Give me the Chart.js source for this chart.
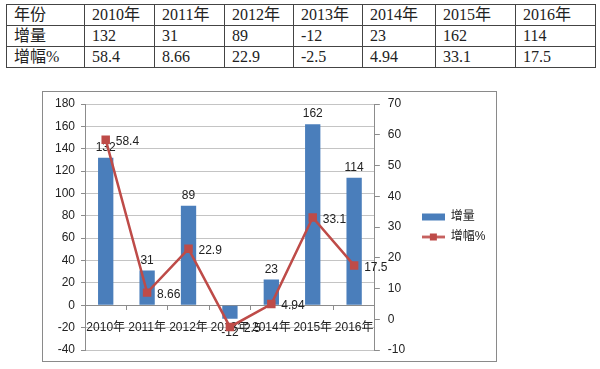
<!DOCTYPE html>
<html>
<head>
<meta charset="utf-8">
<script src="https://cdn.jsdelivr.net/npm/chart.js@4.4.0/dist/chart.umd.min.js"></script>
<style>
  body { margin: 0; background: #fff; width: 600px; height: 369px; overflow: hidden; position: relative; }
  table { position: absolute; left: 6px; top: 4px; border-collapse: collapse; table-layout: fixed;
          font-family: 'Liberation Serif', 'Noto Sans CJK SC', serif; font-size: 16px; color: #222; }
  td { border: 1px solid #444; padding: 0 0 0 7px; height: 20px; line-height: 20px; white-space: nowrap; }
  #frame { position: absolute; left: 42px; top: 91px; width: 453px; height: 269px; border: 1px solid #8a8a8a; }
  #frame canvas { display: block; }
</style>
</head>
<body>
<table id="tbl"></table>
<div id="frame"><canvas id="growthChart" width="453" height="269"></canvas></div>
<script>
// data
const years = ['2010年', '2011年', '2012年', '2013年', '2014年', '2015年', '2016年'];
const increase = [132, 31, 89, -12, 23, 162, 114];
const growthPct = [58.4, 8.66, 22.9, -2.5, 4.94, 33.1, 17.5];
const rowNames = ['年份', '增量', '增幅%'];
const leftAxis = [-40, 180, 20];   // min, max, step
const rightAxis = [-10, 70, 10];

const colWidths = [78, 70, 70, 69, 69, 73, 80, 80];
const BLUE = '#4a7ebb';
const RED = '#be4b48';
const FONT = "'Liberation Sans', 'Noto Sans CJK SC', sans-serif";

// table above the chart
const tbl = document.getElementById('tbl');
const cg = document.createElement('colgroup');
colWidths.forEach(w => { const c = document.createElement('col'); c.style.width = w + 'px'; cg.appendChild(c); });
tbl.appendChild(cg);
[years, increase, growthPct].forEach((vals, r) => {
    const tr = document.createElement('tr');
    [rowNames[r]].concat(vals).forEach(v => {
        const td = document.createElement('td');
        td.textContent = v;
        tr.appendChild(td);
    });
    tbl.appendChild(tr);
});

function legendIcon(kind) {
    const c = document.createElement('canvas');
    c.width = 23; c.height = 9;
    const g = c.getContext('2d');
    if (kind === 'bar') {
        g.fillStyle = BLUE;
        g.fillRect(0, 1, 23, 7);
    } else {
        g.strokeStyle = RED; g.lineWidth = 2.5;
        g.beginPath(); g.moveTo(0, 4.5); g.lineTo(23, 4.5); g.stroke();
        g.fillStyle = RED;
        g.fillRect(8, 1, 7, 7);
    }
    return c;
}
const icons = [legendIcon('bar'), legendIcon('line')];

const valueLabels = {
    id: 'valueLabels',
    afterDatasetDraw(chart, args) {
        const ctx = chart.ctx;
        ctx.save();
        ctx.font = '12px ' + FONT;
        ctx.fillStyle = '#222';
        if (args.index === 0) {
            ctx.textAlign = 'center';
            args.meta.data.forEach((bar, i) => {
                const v = increase[i];
                if (v >= 0) {
                    ctx.textBaseline = 'bottom';
                    ctx.fillText(String(v), bar.x, bar.y - 4);
                } else {
                    ctx.textBaseline = 'top';
                    ctx.fillText(String(v), bar.x, bar.y + 8);
                }
            });
        } else {
            ctx.textAlign = 'left';
            ctx.textBaseline = 'middle';
            args.meta.data.forEach((pt, i) => {
                ctx.fillText(String(growthPct[i]), pt.x + 10, pt.y + 2);
            });
        }
        ctx.restore();
    }
};

// let layout.padding alone decide where the plot area sits
function fixVertical(width) {
    return scale => {
        scale.width = width;
        scale.paddingTop = 0;
        scale.paddingBottom = 0;
    };
}

Chart.defaults.font.family = FONT;
Chart.defaults.font.size = 12;
Chart.defaults.color = '#222';

const ctx = document.getElementById('growthChart').getContext('2d');
new Chart(ctx, {
    type: 'bar',
    data: {
        labels: years,
        datasets: [
            {
                type: 'bar',
                label: '增量',
                data: increase,
                backgroundColor: BLUE,
                borderWidth: 0,
                barPercentage: 0.37,
                categoryPercentage: 1,
                yAxisID: 'y',
                order: 1
            },
            {
                type: 'line',
                label: '增幅%',
                data: growthPct,
                borderColor: RED,
                backgroundColor: RED,
                borderWidth: 2.5,
                pointStyle: 'rect',
                pointRadius: 6,
                pointBorderWidth: 0,
                tension: 0,
                fill: false,
                yAxisID: 'y1',
                order: 0
            }
        ]
    },
    options: {
        responsive: false,
        animation: false,
        events: [],
        layout: { padding: { top: 12, left: 0, right: 8, bottom: 11 } },
        scales: {
            x: {
                position: { y: 0 },
                grid: { offset: true, drawOnChartArea: false, tickLength: 4, color: '#8c8c8c' },
                border: { color: '#8c8c8c' },
                ticks: { maxRotation: 0, autoSkip: false, padding: 11 },
                afterFit(scale) { scale.height = 0; scale.paddingLeft = 0; scale.paddingRight = 0; }
            },
            y: {
                position: 'left',
                min: leftAxis[0], max: leftAxis[1],
                ticks: { stepSize: leftAxis[2], padding: 6 },
                grid: { color: '#c4c4c4', tickLength: 4, tickColor: '#8c8c8c' },
                border: { color: '#8c8c8c' },
                afterFit: fixVertical(42)
            },
            y1: {
                position: 'right',
                min: rightAxis[0], max: rightAxis[1],
                ticks: { stepSize: rightAxis[2], padding: 8 },
                grid: { drawOnChartArea: false, tickLength: 5, color: '#8c8c8c' },
                border: { color: '#8c8c8c' },
                afterFit: fixVertical(39)
            }
        },
        plugins: {
            tooltip: { enabled: false },
            legend: {
                position: 'right',
                labels: {
                    usePointStyle: true,
                    pointStyleWidth: 23,
                    padding: 8,
                    generateLabels: chart => chart.data.datasets.map((ds, i) => ({
                        text: ds.label,
                        pointStyle: icons[i],
                        fillStyle: 'transparent',
                        strokeStyle: 'transparent',
                        lineWidth: 0,
                        hidden: false,
                        datasetIndex: i,
                        fontColor: '#222'
                    }))
                }
            }
        }
    },
    plugins: [valueLabels]
});
</script>
</body>
</html>
